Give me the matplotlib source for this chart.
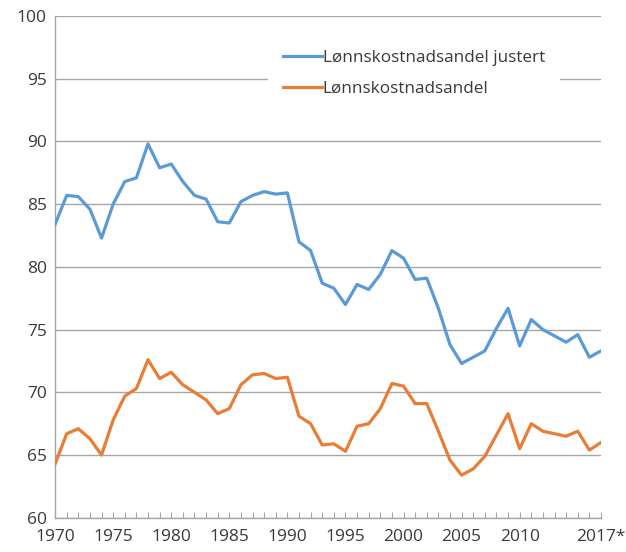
import matplotlib
matplotlib.use("Agg")
import matplotlib.pyplot as plt
import numpy as np

plt.rcParams['font.family'] = ['Open Sans', 'DejaVu Sans']

# Årstall og serier
aar = list(range(1970, 2018))

justert = [83.4, 85.7, 85.6, 84.6, 82.3, 85.0, 86.8, 87.1, 89.8, 87.9,
           88.2, 86.8, 85.7, 85.4, 83.6, 83.5, 85.2, 85.7, 86.0, 85.8,
           85.9, 82.0, 81.3, 78.7, 78.3, 77.0, 78.6, 78.2, 79.4, 81.3,
           80.7, 79.0, 79.1, 76.7, 73.8, 72.3, 72.8, 73.3, 75.1, 76.7,
           73.7, 75.8, 75.0, 74.5, 74.0, 74.6, 72.8, 73.3]

andel = [64.3, 66.7, 67.1, 66.3, 65.0, 67.8, 69.7, 70.3, 72.6, 71.1,
         71.6, 70.6, 70.0, 69.4, 68.3, 68.7, 70.6, 71.4, 71.5, 71.1,
         71.2, 68.1, 67.5, 65.8, 65.9, 65.3, 67.3, 67.5, 68.7, 70.7,
         70.5, 69.1, 69.1, 66.9, 64.6, 63.4, 63.9, 64.9, 66.6, 68.3,
         65.5, 67.5, 66.9, 66.7, 66.5, 66.9, 65.4, 66.0]

x_ticks = [1970, 1975, 1980, 1985, 1990, 1995, 2000, 2005, 2010, 2017]
x_labels = ["1970", "1975", "1980", "1985", "1990", "1995", "2000", "2005", "2010", "2017*"]
y_ticks = [60, 65, 70, 75, 80, 85, 90, 95, 100]

BLAA = "#5B9BD5"
ORANSJE = "#E97D35"
GRAA = "#A6A6A6"
TEKST = "#3A3A3A"

fig = plt.figure(figsize=(6.26, 5.52), dpi=100)
ax = fig.add_axes([0.088, 0.062, 0.872, 0.909])

ax.plot(aar, justert, color=BLAA, lw=2.3, label="Lønnskostnadsandel justert", zorder=3)
ax.plot(aar, andel, color=ORANSJE, lw=2.3, label="Lønnskostnadsandel", zorder=3)

ax.set_xlim(1970, 2017)
ax.set_ylim(60, 100)

ax.set_yticks(y_ticks)
ax.yaxis.grid(True, color=GRAA, lw=1.0)
ax.set_axisbelow(True)
ax.tick_params(axis='y', length=0, pad=6, labelsize=12.5, labelcolor=TEKST)

ax.set_xticks(x_ticks)
ax.set_xticklabels(x_labels)
ax.set_xticks(aar, minor=True)
ax.tick_params(axis='x', which='both', direction='in', length=4.5, width=0.8,
               color=GRAA, labelsize=12.5, labelcolor=TEKST, pad=8)

for s in ['top', 'right']:
    ax.spines[s].set_visible(False)
for s in ['left', 'bottom']:
    ax.spines[s].set_color(GRAA)
    ax.spines[s].set_linewidth(1.0)

leg = ax.legend(loc='upper left', bbox_to_anchor=(0.39, 0.962), frameon=True,
                fancybox=False, framealpha=1, facecolor='white', edgecolor='none',
                fontsize=12.3, handlelength=2.25, handletextpad=0.05,
                labelspacing=0.85, borderpad=0.9, borderaxespad=0)
for t in leg.get_texts():
    t.set_color(TEKST)
leg.set_zorder(4)

fig.savefig("out.png", dpi=100)
